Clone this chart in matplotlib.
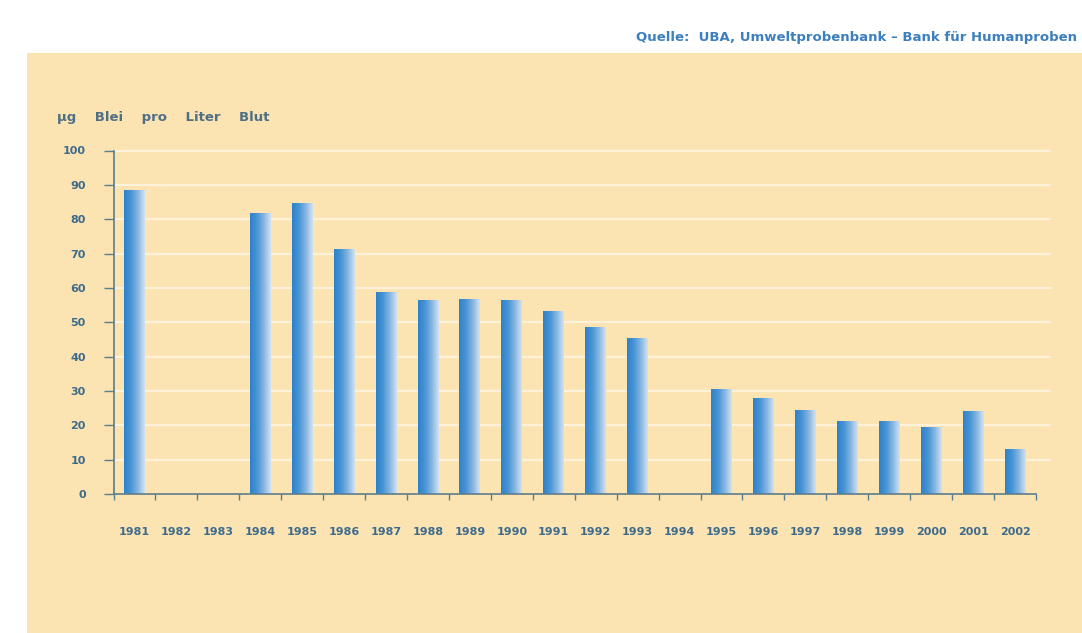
#!/usr/bin/env python3

import numpy as np
import matplotlib
matplotlib.use('Agg')
import matplotlib.pyplot as plt
from matplotlib.colors import LinearSegmentedColormap
from matplotlib.patches import Rectangle

# Blei im Blut, Umweltprobenbank (None = keine Messung)
years = [str(y) for y in range(1981, 2003)]
lead = [88.4, None, None, 81.8, 84.7, 71.1, 58.8, 56.2, 56.7, 56.3, 53.2,
        48.6, 45.4, None, 30.5, 27.9, 24.4, 21.0, 21.0, 19.4, 24.0, 13.1]
yticks = list(range(0, 101, 10))

beige = '#fbe3b2'
grid_col = '#fdf1da'
text_col = '#3e6b8c'
axis_col = '#5c7d8c'

W, H = 1082, 633
fig = plt.figure(figsize=(W / 100, H / 100), dpi=100)
fig.patch.set_facecolor('white')

# beige panel behind everything
fig.patches.append(Rectangle((27 / W, 0), 1 - 27 / W, (H - 53) / H,
                             transform=fig.transFigure, facecolor=beige,
                             edgecolor='none', zorder=-10))

ax = fig.add_axes([113.5 / W, (H - 494) / H, (1036 - 113.5) / W, (494 - 150.5) / H])
ax.set_facecolor('none')
ax.set_zorder(1)

cmap = LinearSegmentedColormap.from_list(
    'bar', ['#2c82cb', '#4894d5', '#86b6e2', '#d3e2ef'])
grad = np.linspace(0, 1, 64).reshape(1, -1)

x = np.arange(len(years))
w = 0.5
for xi, v in zip(x, lead):
    if v is None:
        continue
    ax.imshow(grad, extent=(xi - w / 2, xi + w / 2, 0, v), aspect='auto',
              cmap=cmap, interpolation='bicubic', zorder=3)

# light horizontal grid, running slightly past the last category
for t in yticks[1:]:
    ax.plot([-0.5, 21.85], [t, t], color=grid_col, lw=1.6, zorder=1,
            clip_on=False, solid_capstyle='butt')

ax.set_xlim(-0.5, 21.5)
ax.set_ylim(0, 100)

for s in ['top', 'right']:
    ax.spines[s].set_visible(False)
for s in ['left', 'bottom']:
    ax.spines[s].set_color(axis_col)
    ax.spines[s].set_linewidth(1.2)
    ax.spines[s].set_zorder(4)

ax.set_yticks(yticks)
ax.set_yticklabels([str(t) for t in yticks])
ax.tick_params(axis='y', direction='out', length=7, width=1, color=axis_col,
               pad=13, labelsize=8, labelcolor=text_col)

ax.set_xticks(np.arange(-0.5, 22, 1))
ax.set_xticklabels([])
ax.set_xticks(x, minor=True)
ax.set_xticklabels(years, minor=True)
ax.tick_params(axis='x', which='major', direction='out', length=4, width=1,
               color=axis_col)
ax.tick_params(axis='x', which='minor', length=0, pad=24, labelsize=8,
               labelcolor=text_col)
for lab in ax.get_xticklabels(minor=True) + ax.get_yticklabels():
    lab.set_fontweight('bold')

fig.text(57 / W, 1 - 117 / H, 'µg    Blei    pro    Liter    Blut', fontsize=9.5,
         fontweight='bold', color='#4f6f86', ha='left', va='center')

fig.text(1077 / W, 1 - 38 / H,
         'Quelle:  UBA, Umweltprobenbank \u2013 Bank für Humanproben',
         fontsize=9.5, fontweight='bold', color='#3c7fbf', ha='right',
         va='center')

fig.savefig('out.png', dpi=100)
